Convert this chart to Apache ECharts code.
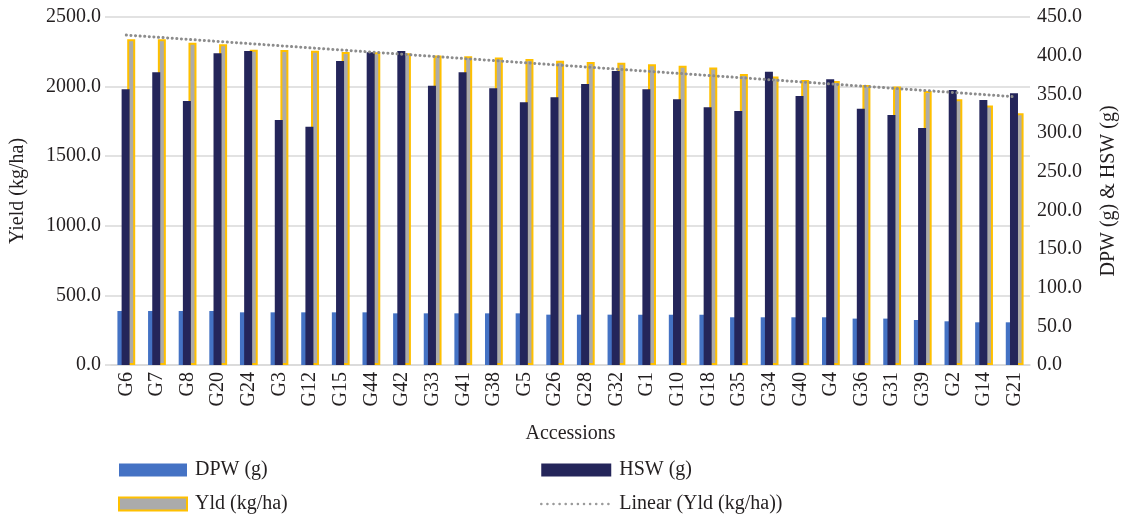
<!DOCTYPE html>
<html>
<head>
<meta charset="utf-8">
<script src="https://cdn.jsdelivr.net/npm/echarts@6/dist/echarts.min.js"></script>
<style>
html,body{margin:0;padding:0;background:#fff;}
#chart{width:1127px;height:515px;}
</style>
</head>
<body>
<div id="chart"></div>
<script>
const categories = ["G6","G7","G8","G20","G24","G3","G12","G15","G44","G42","G33","G41","G38","G5","G26","G28","G32","G1","G10","G18","G35","G34","G40","G4","G36","G31","G39","G2","G14","G21"];
const dpw = [69.8,69.8,69.8,69.8,68.1,68.1,68.1,68.1,68.1,66.8,66.8,66.8,66.8,66.8,65.1,65.1,65.1,65.0,65.0,65.0,61.7,61.7,61.7,61.7,60.0,60.0,58.2,56.5,55.2,55.2];
const hsw = [356.5,378.5,341.4,403.0,406.0,316.8,308.2,393.0,404.3,406.0,361.2,378.5,357.8,339.7,346.2,363.4,380.2,356.5,343.6,333.2,328.5,379.3,347.9,369.5,331.4,323.3,306.5,355.6,342.7,351.3];
const yld = [2341,2340,2315,2305,2265,2263,2257,2248,2246,2240,2223,2218,2209,2199,2185,2176,2172,2160,2149,2138,2090,2072,2048,2040,2012,2000,1969,1910,1864,1809];
const leftTicks = {min:0, max:2500, interval:500};
const rightTicks = {min:0, max:450, interval:50};

// Linear trendline (least squares on Yld vs category index), as Excel's "Linear" trendline
const n = yld.length;
let sx=0, sy=0, sxy=0, sxx=0;
yld.forEach((v,i)=>{const x=i+1; sx+=x; sy+=v; sxy+=x*v; sxx+=x*x;});
const slope = (n*sxy - sx*sy)/(n*sxx - sx*sx);
const icpt = (sy - slope*sx)/n;
const trend = yld.map((v,i)=>+(icpt + slope*(i+1)).toFixed(2));

const FONT = "Liberation Serif";
const TXT = "#231f20";
const FS = 20;
const legendText = {fontFamily:FONT, fontSize:FS, color:TXT, padding:[0,0,0,3]};
const chart = echarts.init(document.getElementById('chart'), null, {renderer:'canvas'});
chart.setOption({
  animation:false,
  textStyle:{fontFamily:FONT, color:TXT},
  grid:{left:110, right:97, top:17, bottom:150},
  legend:[
    {left:118, top:460, height:80, padding:0, orient:'vertical', itemWidth:68, itemHeight:13, itemGap:14,
     textStyle:legendText,
     data:[{name:'DPW (g)', icon:'rect'}, {name:'Yld (kg/ha)', icon:'rect'}]},
    {left:540, top:460, height:80, padding:0, orient:'vertical', itemWidth:70, itemHeight:13, itemGap:14,
     textStyle:legendText,
     data:[{name:'HSW (g)', icon:'rect'},
           {name:'Linear (Yld (kg/ha))', itemStyle:{opacity:0},
            lineStyle:{width:2.5, type:[0.1,6], cap:'round', color:'#9a9a9a'}}]}
  ],
  xAxis:{
    type:'category', data:categories,
    name:'Accessions', nameLocation:'middle', nameGap:59,
    nameTextStyle:{fontFamily:FONT, fontSize:FS, color:TXT},
    axisLine:{lineStyle:{color:'#d9d9d9', width:1.5}},
    axisTick:{show:false},
    axisLabel:{rotate:90, margin:7, fontFamily:FONT, fontSize:FS, color:TXT, interval:0}
  },
  yAxis:[
    {type:'value', min:leftTicks.min, max:leftTicks.max, interval:leftTicks.interval,
     name:'Yield (kg/ha)', nameLocation:'middle', nameGap:83, nameRotate:90,
     nameTextStyle:{fontFamily:FONT, fontSize:FS, color:TXT},
     axisLine:{show:false},
     axisTick:{show:true, length:6, lineStyle:{color:'#d9d9d9', width:1.5}},
     splitLine:{lineStyle:{color:'#d9d9d9', width:1.5}},
     axisLabel:{fontFamily:FONT, fontSize:FS, color:TXT, margin:10, formatter:v=>v.toFixed(1)}},
    {type:'value', min:rightTicks.min, max:rightTicks.max, interval:rightTicks.interval,
     position:'right',
     name:'DPW (g) & HSW (g)', nameLocation:'middle', nameGap:69, nameRotate:90,
     nameTextStyle:{fontFamily:FONT, fontSize:FS, color:TXT},
     axisLine:{show:false}, axisTick:{show:false}, splitLine:{show:false},
     axisLabel:{fontFamily:FONT, fontSize:FS, color:TXT, margin:7, formatter:v=>v.toFixed(1)}}
  ],
  series:[
    {name:'DPW (g)', type:'bar', yAxisIndex:1, data:dpw, barWidth:6, barGap:'-30%',
     itemStyle:{color:'#4472c4'}, z:2},
    {name:'HSW (g)', type:'bar', yAxisIndex:1, data:hsw, barWidth:8, barGap:'-30%',
     itemStyle:{color:'#24255a'}, z:3},
    {name:'Yld (kg/ha)', type:'bar', yAxisIndex:0, data:yld, barWidth:8, barGap:'-30%',
     itemStyle:{color:'#ababab', borderColor:'#ffc000', borderWidth:2}, z:1},
    {name:'Linear (Yld (kg/ha))', type:'line', yAxisIndex:0, data:trend,
     symbol:'none', z:4,
     lineStyle:{color:'#8c8c8c', width:3, type:[0.1,4.5], cap:'round'},
     itemStyle:{color:'#8c8c8c'}}
  ]
});
</script>
</body>
</html>
